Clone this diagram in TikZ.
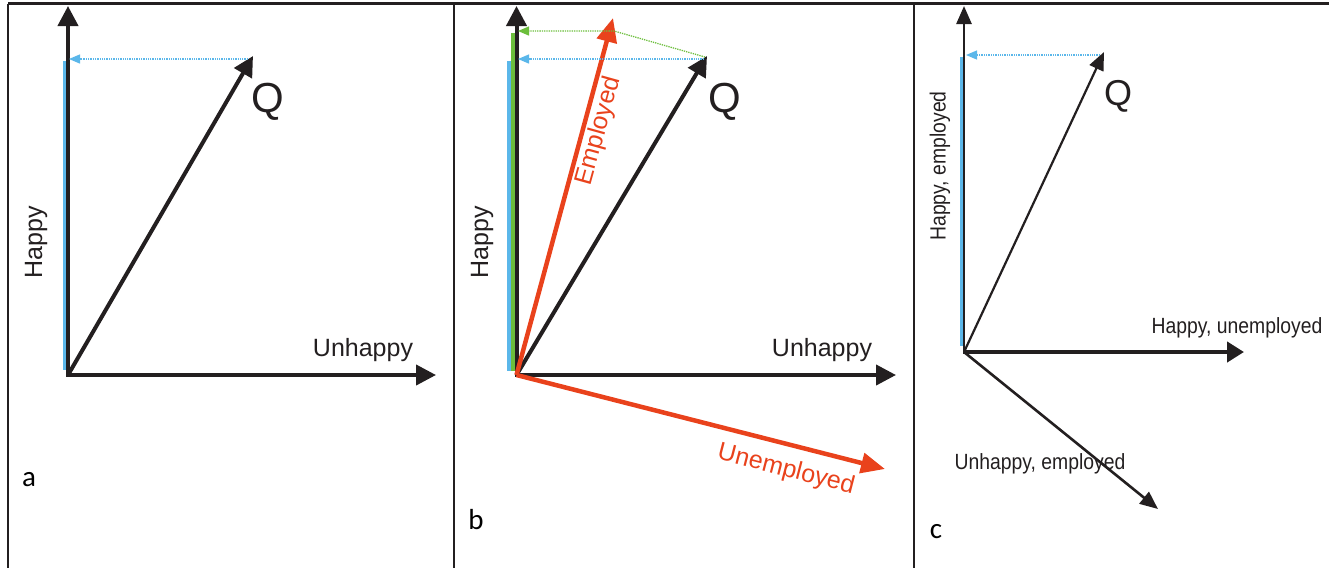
\documentclass[tikz,border=0pt]{standalone}
\usepackage{fontspec}
\setmainfont{Liberation Sans}
\newfontfamily\lblfont{Carlito}
\newfontfamily\condfont[FakeStretch=0.88]{Liberation Sans}
\usetikzlibrary{arrows.meta}
\definecolor{ink}{RGB}{35,31,32}
\definecolor{skyb}{RGB}{91,183,234}
\definecolor{grn}{RGB}{108,190,60}
\definecolor{redo}{RGB}{233,66,28}
\tikzset{
  frame/.style={line width=2.5pt, ink},
  axis/.style={line width=4pt, ink, -{Triangle[length=20pt,width=20pt]}},
  thinarr/.style={line width=2.2pt, ink, -{Triangle[length=18pt,width=15pt]}},
  redarr/.style={line width=4.5pt, redo, -{Triangle[length=24pt,width=20pt]}},
  bar/.style={line width=4pt},
  proj/.style={line width=1.3pt, densely dotted, -{Triangle[length=11pt,width=9pt]}},
  axlbl/.style={font=\fontsize{25}{25}\selectfont, ink, inner sep=0pt},
  qlbl/.style={font=\fontsize{42}{42}\selectfont, ink, inner sep=0pt},
  clbl/.style={font=\condfont\fontsize{22}{22}\selectfont, ink, inner sep=0pt},
  panlbl/.style={font=\lblfont\fontsize{29}{29}\selectfont, black, inner sep=0pt},
}
\begin{document}
\begin{tikzpicture}[x=1pt,y=-1pt]
\useasboundingbox (0,0) rectangle (1329,568);
% frame
\draw[frame] (8,3.5) -- (1329,3.5);
\draw[frame] (8,3.5) -- (8,568);
\draw[frame] (454,3.5) -- (454,568);
\draw[frame] (914,3.5) -- (914,568);

% ---------- panel a ----------
\coordinate (Oa) at (68,375);
\coordinate (Ya) at (68,6);
\coordinate (Xa) at (436,375);
\coordinate (Qa) at (253,56);
\coordinate (Pa1) at (248,59);
\coordinate (Pa2) at (69,59);
\coordinate (Ba1) at (64.5,61);
\coordinate (Ba2) at (64.5,370);
\draw[bar, skyb] (Ba1) -- (Ba2);
\draw[axis] (Oa) -- (Ya);
\draw[axis] ([xshift=-2pt]Oa) -- (Xa);
\draw[axis] (Oa) -- (Qa);
\draw[proj, skyb] (Pa1) -- (Pa2);
\node[qlbl] (qa) at (268,102) {Q};
\node[axlbl, rotate=90] (ha) at (36,242) {Happy};
\node[axlbl] (ua) at (363,350) {Unhappy};
\node[panlbl] (la) at (29,480) {a};

% ---------- panel b ----------
\coordinate (Ob) at (516.5,375);
\coordinate (Yb) at (516.5,6);
\coordinate (Xb) at (896,375);
\coordinate (Qb) at (707,56);
\coordinate (Eb) at (613,18);
\coordinate (Ub) at (885,469);
\coordinate (Bb1) at (509,61);
\coordinate (Bb2) at (509,371);
\coordinate (Gb1) at (513,33);
\coordinate (Gb2) at (513,371);
\coordinate (Pb1) at (704,59);
\coordinate (Pb2) at (518,59);
\coordinate (Gp1) at (705,57);
\coordinate (Gp2) at (614,31);
\coordinate (Gp3) at (518,31);
\draw[bar, skyb] (Bb1) -- (Bb2);
\draw[bar, grn] (Gb1) -- (Gb2);
\draw[axis] (Ob) -- (Yb);
\draw[axis] ([xshift=-2pt]Ob) -- (Xb);
\draw[axis] (Ob) -- (Qb);
\draw[redarr] (Ob) -- (Eb);
\draw[redarr] (Ob) -- (Ub);
\draw[proj, skyb] (Pb1) -- (Pb2);
\draw[proj, grn] (Gp1) -- (Gp2) -- (Gp3);
\node[qlbl] (qb) at (725,102) {Q};
\node[axlbl, rotate=90] (hb) at (482,242) {Happy};
\node[axlbl] (ub) at (822,350) {Unhappy};
\node[axlbl, redo, rotate=74.5] (eb) at (599,131) {Employed};
\node[axlbl, redo, rotate=-14.5] (unb) at (786,470) {Unemployed};
\node[panlbl] (lb) at (476,520) {b};

% ---------- panel c ----------
\coordinate (Oc) at (964,352);
\coordinate (Yc) at (964,6);
\coordinate (Xc) at (1244,352);
\coordinate (Qc) at (1104,52);
\coordinate (Dc) at (1158,509);
\coordinate (Bc1) at (961.5,57);
\coordinate (Bc2) at (961.5,346);
\coordinate (Pc1) at (1100,55);
\coordinate (Pc2) at (966,55);
\draw[bar, skyb, line width=3pt] (Bc1) -- (Bc2);
\draw[thinarr, line width=2.6pt] (Oc) -- (Yc);
\draw[axis, line width=4.5pt, -{Triangle[length=17pt,width=20pt]}] ([xshift=-1pt]Oc) -- (Xc);
\draw[thinarr] (Oc) -- (Qc);
\draw[thinarr, line width=2.6pt] (Oc) -- (Dc);
\draw[proj, skyb] (Pc1) -- (Pc2);
\node[qlbl, font=\fontsize{36}{36}\selectfont] (qc) at (1118,96) {Q};
\node[clbl, rotate=90] (hec) at (940,166) {Happy, employed};
\node[clbl] (huc) at (1237,328) {Happy, unemployed};
\node[clbl] (uec) at (1040,464) {Unhappy, employed};
\node[panlbl] (lc) at (936,532) {c};
\end{tikzpicture}
\end{document}
